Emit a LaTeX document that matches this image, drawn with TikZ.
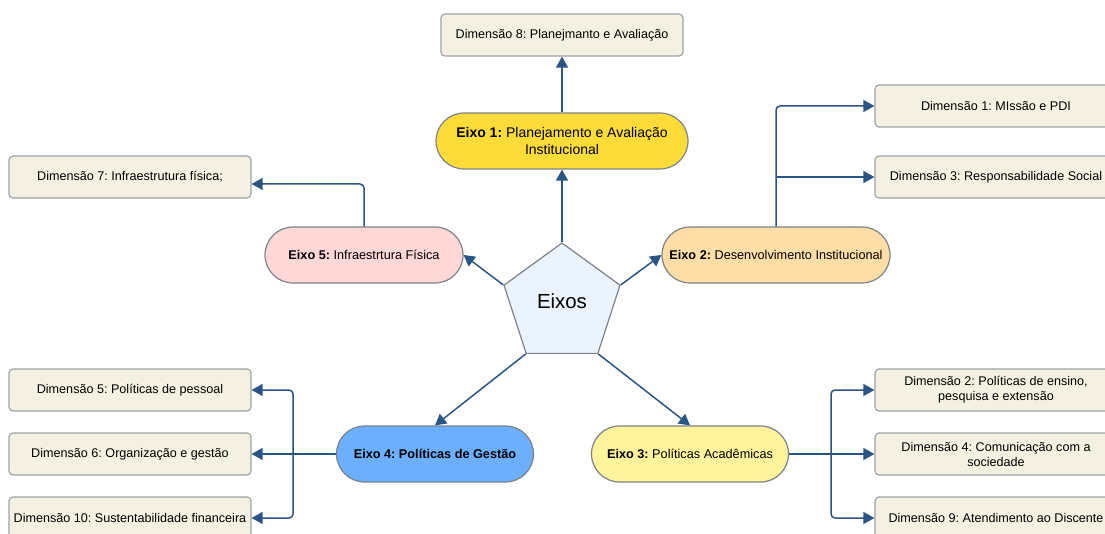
\documentclass[tikz,border=0pt]{standalone}
\usepackage{fontspec}
\setmainfont{Liberation Sans}
\usetikzlibrary{shapes.geometric,arrows.meta}
\frenchspacing
\definecolor{linkblue}{HTML}{2B5583}
\definecolor{dimfill}{HTML}{F5F1E2}
\definecolor{boxline}{HTML}{9DA2A8}
\definecolor{eixoline}{HTML}{7D8288}
\definecolor{eixoA}{HTML}{FDDC3A}
\definecolor{eixoB}{HTML}{FFDDA6}
\definecolor{eixoC}{HTML}{FFF39B}
\definecolor{eixoD}{HTML}{6CAFFF}
\definecolor{eixoE}{HTML}{FFD7D7}
\definecolor{pentfill}{HTML}{EBF3FE}

\begin{document}
\begin{tikzpicture}[x=1pt,y=-1pt,
    dim/.style={draw=boxline,fill=dimfill,line width=1.2pt,rounded corners=4pt,
      minimum width=242pt,minimum height=42pt,inner sep=2pt,align=center,
      font=\fontsize{12.6}{15}\selectfont},
    eixo/.style={draw=eixoline,line width=1.2pt,rounded corners=28pt,
      minimum height=56pt,inner sep=2pt,align=center,
      font=\fontsize{12.7}{15}\selectfont},
    link/.style={draw=linkblue,line width=1.5pt,rounded corners=4pt,
      -{Triangle[length=11pt,width=12pt]}}]
  \useasboundingbox (0,0) rectangle (1105,534);
  \clip (0,0) rectangle (1105,534);

  \node[regular polygon,regular polygon sides=5,minimum size=122pt,inner sep=0pt,
    draw=eixoline,fill=pentfill,line width=1.2pt,font=\fontsize{20.4}{24}\selectfont]
    (eixos) at (562,304) {\raisebox{6pt}{Eixos}};

  \node[eixo,fill=eixoA,minimum width=252pt,font=\fontsize{14}{16.5}\selectfont]
    (eixo1) at (562,141) {\textbf{Eixo 1:} Planejamento e Avaliação\\Institucional};
  \node[eixo,fill=eixoB,minimum width=228pt] (eixo2) at (776,255)
    {\textbf{Eixo 2:} Desenvolvimento Institucional};
  \node[eixo,fill=eixoE,minimum width=198pt] (eixo5) at (364,255)
    {\textbf{Eixo 5:} Infraestrtura Física};
  \node[eixo,fill=eixoD,minimum width=197pt] (eixo4) at (435,454)
    {\textbf{Eixo 4: Políticas de Gestão}};
  \node[eixo,fill=eixoC,minimum width=197pt] (eixo3) at (690,454)
    {\textbf{Eixo 3:} Políticas Acadêmicas};

  \node[dim] (dim8) at (562,35) {Dimensão 8: Planejmanto e Avaliação};
  \node[dim] (dim1) at (996,106) {Dimensão 1: MIssão e PDI};
  \node[dim] (dim3) at (996,177) {Dimensão 3: Responsabilidade Social};
  \node[dim] (dim7) at (130,177) {Dimensão 7: Infraestrutura física;};
  \node[dim] (dim5) at (130,390) {Dimensão 5: Políticas de pessoal};
  \node[dim] (dim6) at (130,454) {Dimensão 6: Organização e gestão};
  \node[dim] (dim10) at (130,518) {Dimensão 10: Sustentabilidade financeira};
  \node[dim] (dim2) at (996,390) {Dimensão 2: Políticas de ensino,\\pesquisa e extensão};
  \node[dim] (dim4) at (996,454) {Dimensão 4: Comunicação com a\\sociedade};
  \node[dim] (dim9) at (996,518) {Dimensão 9: Atendimento ao Discente};

  \draw[link] (eixos.corner 1) -- (eixo1.south);
  \draw[link] (eixos.corner 2) -- (eixo5.east);
  \draw[link] (eixos.corner 5) -- (eixo2.west);
  \draw[link] (eixos.corner 3) -- (eixo4.north);
  \draw[link] (eixos.corner 4) -- (eixo3.north);

  \draw[link] (eixo1.north) -- (dim8.south);
  \draw[link] (eixo2.north) |- (dim1.west);
  \draw[link] (eixo2.north |- dim3.west) -- (dim3.west);
  \draw[link] (eixo5.north) |- ([yshift=-7pt]dim7.east);

  \coordinate (j4) at (293,454);
  \draw[link] (eixo4.west) -- (j4) -- (dim6.east);
  \draw[link] (j4) |- (dim5.east);
  \draw[link] (j4) |- (dim10.east);

  \coordinate (j3) at (831,454);
  \draw[link] (eixo3.east) -- (j3) -- (dim4.west);
  \draw[link] (j3) |- (dim2.west);
  \draw[link] (j3) |- (dim9.west);
\end{tikzpicture}
\end{document}
